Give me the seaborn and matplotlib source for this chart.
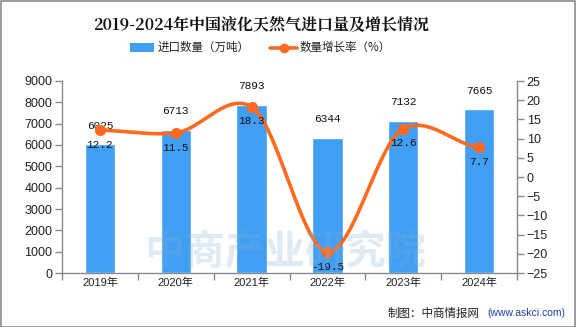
import numpy as np
import pandas as pd
import matplotlib
matplotlib.use("Agg")
import matplotlib.pyplot as plt
import seaborn as sns
from matplotlib.patches import Rectangle
from matplotlib.lines import Line2D

years = ["2019年", "2020年", "2021年", "2022年", "2023年", "2024年"]
volume = [6025, 6713, 7893, 6344, 7132, 7665]
growth = [12.2, 11.5, 18.3, -19.5, 12.6, 7.7]
left_ticks = list(range(0, 10000, 1000))
right_ticks = list(range(-25, 30, 5))

title = "2019-2024年中国液化天然气进口量及增长情况"
bar_name = "进口数量（万吨）"
line_name = "数量增长率（%）"
source_cn = "制图：中商情报网"
source_url = "(www.askci.com)"

BAR_C = "#409EF3"
LINE_C = "#FF6A1F"
AX_C = "#8a8a8a"

sns.set_theme(style="white")
plt.rcParams["font.family"] = ["Liberation Sans", "Noto Sans CJK SC", "DejaVu Sans"]
plt.rcParams["axes.unicode_minus"] = True

fig = plt.figure(figsize=(5.76, 3.27), dpi=100)
W, H = 576, 327
ax = fig.add_axes([62 / W, 1 - 273 / H, (517 - 62) / W, (273 - 81) / H])

df = pd.DataFrame({"year": years, "volume": volume, "growth": growth})
sns.barplot(data=df, x="year", y="volume", color=BAR_C, width=0.4, ax=ax,
            saturation=1, zorder=2)
ax.set_xlim(-0.5, len(years) - 0.5)
ax.set_ylim(0, 9000)
ax.set_yticks(left_ticks)
ax.set_xlabel("")
ax.set_ylabel("")
for s in ["top", "right"]:
    ax.spines[s].set_visible(False)
for s in ["left", "bottom"]:
    ax.spines[s].set_color(AX_C)
    ax.spines[s].set_linewidth(1)
ax.tick_params(axis="y", length=5, width=1, color=AX_C, labelsize=9, pad=2, colors="#222222", left=True)
ax.tick_params(axis="x", which="major", length=0, labelsize=8, pad=3, colors="#222222")
ax.set_xticks(np.arange(-0.5, len(years)), minor=True)
ax.tick_params(axis="x", which="minor", length=5, width=1, color=AX_C, bottom=True)
ax.grid(False)

for i, v in enumerate(volume):
    ax.annotate(str(v), (i, v), xytext=(0, 10), textcoords="offset points",
                ha="center", va="bottom", fontsize=8, family="Liberation Mono",
                color="#111111", zorder=6)

ax2 = ax.twinx()
ax2.set_ylim(-25, 25)
ax2.set_yticks(right_ticks)
for s in ["top", "left", "bottom"]:
    ax2.spines[s].set_visible(False)
ax2.spines["right"].set_color(AX_C)
ax2.spines["right"].set_linewidth(1)
ax2.tick_params(axis="y", length=5, width=1, color=AX_C, labelsize=9, pad=2, colors="#222222", right=True)
ax2.grid(False)

# smooth curve through the growth points (cubic Hermite)
xs = np.arange(len(growth), dtype=float)
ys = np.array(growth, dtype=float)
k = 0.75
m = np.zeros_like(ys)
m[1:-1] = k * (ys[2:] - ys[:-2]) / 2
m[0] = 0.5 * (ys[1] - ys[0])
m[-1] = 0.5 * (ys[-1] - ys[-2])
cx, cy = [], []
for i in range(len(xs) - 1):
    t = np.linspace(0, 1, 40)
    h00 = 2 * t**3 - 3 * t**2 + 1
    h10 = t**3 - 2 * t**2 + t
    h01 = -2 * t**3 + 3 * t**2
    h11 = t**3 - t**2
    cy.extend(h00 * ys[i] + h10 * m[i] + h01 * ys[i + 1] + h11 * m[i + 1])
    cx.extend(xs[i] + t)
ax2.plot(cx, cy, color=LINE_C, lw=2.6, zorder=4, solid_capstyle="round")
sns.scatterplot(x=xs, y=ys, color=LINE_C, s=55, edgecolor=LINE_C, ax=ax2, zorder=5, legend=False)
for i, g in enumerate(growth):
    ax2.annotate(f"{g}", (i, g), xytext=(0, -7), textcoords="offset points",
                 ha="center", va="top", fontsize=8, family="Liberation Mono",
                 color="#111111", zorder=6)

# watermark
fig.text(285 / W, 1 - 252 / H, "中商产业研究院", fontsize=29, color="#7fb2d6", alpha=0.25,
         ha="center", va="center", family="Noto Sans CJK SC", fontweight="bold", zorder=0)

fig.text(261 / W, 1 - 25 / H, title, fontsize=11.5, fontweight="bold", ha="center", va="center",
         family=["Noto Serif CJK SC", "Noto Sans CJK SC"], color="#111111")

# legend
fig.patches.append(Rectangle((130 / W, 1 - 52 / H), 24 / W, 9 / H, transform=fig.transFigure,
                             facecolor=BAR_C, edgecolor="none"))
fig.text(158 / W, 1 - 47.5 / H, bar_name, fontsize=8.3, ha="left", va="center",
         family="Noto Sans CJK SC", color="#222222")
fig.lines.append(Line2D([270 / W, 297 / W], [1 - 48 / H, 1 - 48 / H], transform=fig.transFigure,
                        color=LINE_C, lw=2.6))
fig.lines.append(Line2D([283.5 / W], [1 - 48 / H], transform=fig.transFigure, marker="o",
                        markersize=6, color=LINE_C))
fig.text(300 / W, 1 - 47.5 / H, line_name, fontsize=8.3, ha="left", va="center",
         family="Noto Sans CJK SC", color="#222222")

fig.text(388 / W, 1 - 313 / H, source_cn, fontsize=8.3, ha="left", va="center",
         family="Noto Sans CJK SC", color="#222222")
fig.text(565 / W, 1 - 313 / H, source_url, fontsize=7.5, ha="right", va="center",
         color="#1f3fae")

fig.patches.append(Rectangle((0.5 / W, 0.5 / H), (W - 1.5) / W, (H - 1.5) / H, transform=fig.transFigure,
                             facecolor="none", edgecolor="#8c8c8c", lw=1.2))

fig.savefig("out.png", dpi=100)
